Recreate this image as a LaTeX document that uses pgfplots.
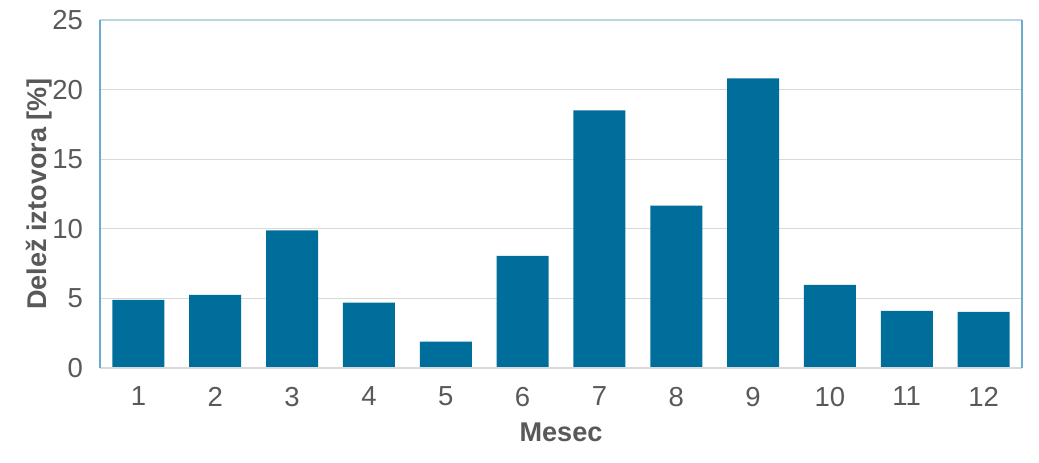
\documentclass[border=0pt]{standalone}
\usepackage{pgfplots}
\pgfplotsset{compat=1.18}
\usepackage{fontspec}
\setmainfont{Liberation Sans}
\definecolor{barblue}{RGB}{0,110,154}
\definecolor{gridgray}{RGB}{217,217,217}
\definecolor{txtgray}{RGB}{89,89,89}
\definecolor{frameblue}{RGB}{110,170,205}
\definecolor{frametop}{RGB}{185,212,228}
\begin{document}
\begin{tikzpicture}
\begin{axis}[
  name=ax,
  scale only axis,
  width=461bp, height=174bp,
  xmin=0.5, xmax=12.5,
  ymin=0, ymax=25,
  xtick={1,...,12},
  ytick={0,5,...,25},
  ymajorgrids=true,
  grid style={gridgray, line width=0.6pt},
  axis line style={draw=none},
  major tick length=0pt,
  ticklabel style={font=\fontsize{13.8}{15}\selectfont, text=txtgray},
  /pgf/number format/assume math mode=true,
  xticklabel style={yshift=-6bp},
  yticklabel style={xshift=-5bp},
  xlabel={\textbf{Mesec}},
  ylabel={\textbf{Delež iztovora [\%]}},
  label style={font=\fontsize{13.6}{16}\selectfont, text=txtgray},
  xlabel style={yshift=-1.5bp},
  ylabel style={yshift=-6.5bp},
  clip=false,
]
\addplot[ybar, bar width=26bp, fill=barblue, draw=none] coordinates {
  (1,4.89) (2,5.25) (3,9.88) (4,4.70) (5,1.89) (6,8.06)
  (7,18.5) (8,11.67) (9,20.8) (10,5.97) (11,4.10) (12,4.03)
};
\draw[gridgray, line width=0.8pt] (rel axis cs:0,0) -- (rel axis cs:1,0);
\draw[frametop, line width=0.8pt] (rel axis cs:0,1) -- (rel axis cs:1,1);
\draw[frameblue, line width=0.8pt] (rel axis cs:0,0) -- (rel axis cs:0,1);
\draw[frameblue, line width=0.8pt] (rel axis cs:1,0) -- (rel axis cs:1,1);
\end{axis}
\pgfresetboundingbox
\path ([xshift=-50bp,yshift=-47.5bp]ax.south west) rectangle ([xshift=8.5bp,yshift=10bp]ax.north east);
\end{tikzpicture}
\end{document}
